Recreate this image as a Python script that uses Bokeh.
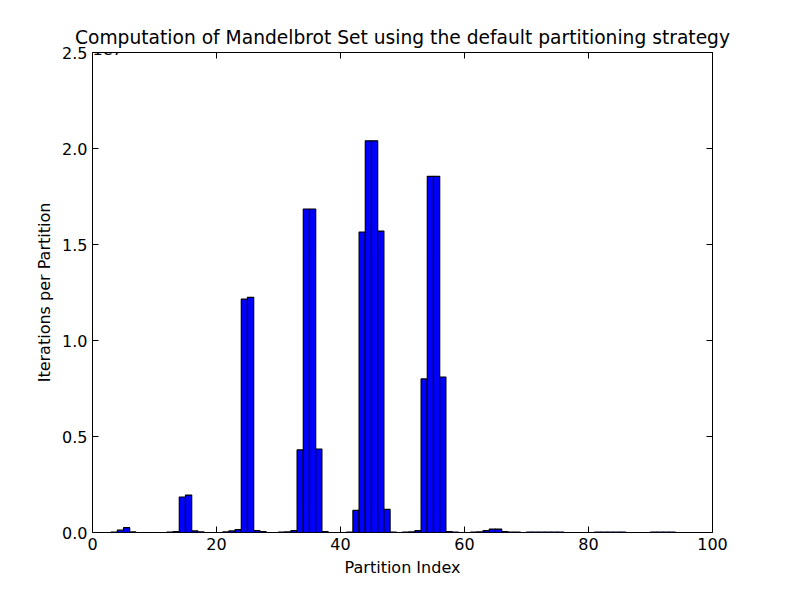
from bokeh.plotting import figure
from bokeh.models import LinearAxis, Range1d, Label, FixedTicker, PrintfTickFormatter, CustomJSTickFormatter
from bokeh.embed import file_html
from bokeh.resources import INLINE

# iterations per partition, in units of 1e7
iterations = [0, 0, 0, 0.002, 0.012, 0.025, 0.003, 0, 0, 0,
              0, 0, 0.002, 0.005, 0.185, 0.195, 0.008, 0.003, 0, 0,
              0, 0.003, 0.008, 0.015, 1.215, 1.225, 0.01, 0.005, 0, 0,
              0.002, 0.003, 0.01, 0.43, 1.685, 1.685, 0.435, 0.005, 0, 0,
              0, 0.002, 0.115, 1.565, 2.04, 2.04, 1.57, 0.12, 0.002, 0,
              0.002, 0.003, 0.01, 0.80, 1.855, 1.855, 0.81, 0.005, 0.002, 0,
              0, 0.002, 0.003, 0.01, 0.018, 0.018, 0.005, 0.002, 0.002, 0,
              0.002, 0.002, 0.002, 0.002, 0.002, 0.002, 0, 0, 0, 0,
              0, 0.002, 0.002, 0.002, 0.002, 0.002, 0, 0, 0, 0,
              0.002, 0.002, 0.002, 0.002, 0, 0, 0, 0, 0, 0]
index = list(range(len(iterations)))

FONT = "DejaVu Sans"
p = figure(width=784, height=584, output_backend="svg", toolbar_location=None,
           x_range=Range1d(0, 100), y_range=Range1d(0, 2.5),
           min_border_left=92, min_border_right=72, min_border_top=52, min_border_bottom=52,
           title="Computation of Mandelbrot Set using the default partitioning strategy")
p.title.text_font = FONT
p.title.text_font_size = "14pt"
p.title.text_font_style = "normal"
p.title.text_color = "black"
p.title.align = "center"
p.grid.visible = False
p.outline_line_color = "black"

p.vbar(x=[i + 0.5 for i in index], top=iterations, width=1.0, bottom=0,
       fill_color="blue", line_color="black", line_width=1.2)

p.xaxis.ticker = FixedTicker(ticks=[0, 20, 40, 60, 80, 100])
p.yaxis.ticker = FixedTicker(ticks=[0, 0.5, 1.0, 1.5, 2.0, 2.5])
p.yaxis.formatter = PrintfTickFormatter(format="%.1f")
p.xaxis.axis_label = "Partition Index"
p.yaxis.axis_label = "Iterations per Partition"

for ax in (p.xaxis[0], p.yaxis[0]):
    ax.major_tick_in = 6
    ax.major_tick_out = 0
    ax.minor_tick_in = 0
    ax.minor_tick_out = 0
    ax.axis_line_color = None
    ax.major_tick_line_color = "black"
    ax.major_label_text_font = FONT
    ax.major_label_text_font_size = "12pt"
    ax.major_label_text_color = "black"
    ax.axis_label_text_font = FONT
    ax.axis_label_text_font_size = "12pt"
    ax.axis_label_text_font_style = "normal"
    ax.axis_label_text_color = "black"

for loc, tk in (("right", p.yaxis.ticker), ("above", p.xaxis.ticker)):
    a = LinearAxis(ticker=tk, formatter=CustomJSTickFormatter(code="return ''"),
                   axis_line_color=None, major_tick_line_color="black",
                   major_tick_in=6, major_tick_out=0, minor_tick_in=0, minor_tick_out=0)
    p.add_layout(a, loc)

p.add_layout(Label(x=0, y=2.5, y_offset=-2, text="1e7", text_baseline="bottom",
                   text_font=FONT, text_font_size="12pt", text_color="black"))

open("out.html", "w").write(file_html(p, INLINE))
